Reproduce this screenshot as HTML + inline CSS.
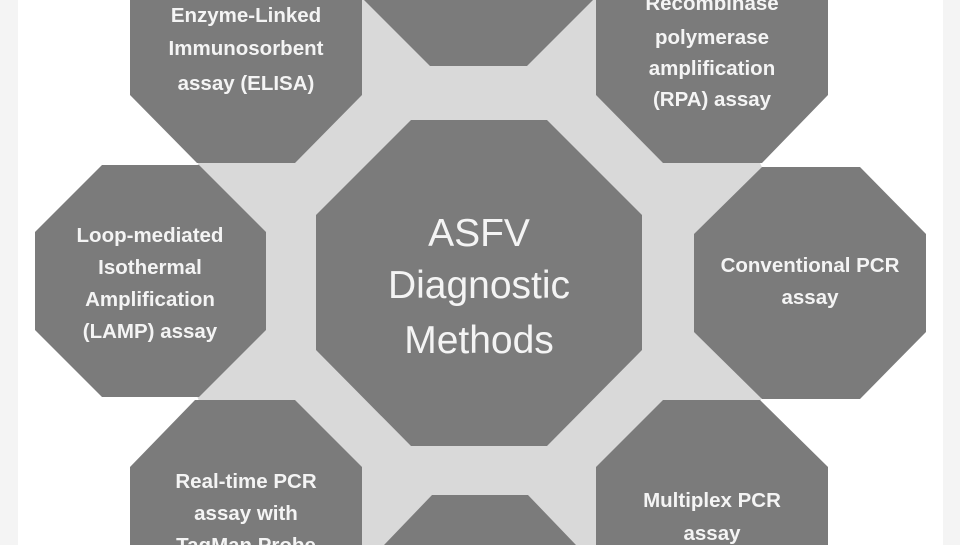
<!DOCTYPE html>
<html><head><meta charset="utf-8"><style>
html,body{margin:0;padding:0;background:#fff;width:960px;height:545px;overflow:hidden;}
svg{display:block;overflow:hidden;}
text{font-family:"Liberation Sans",Arial,sans-serif;fill:#f4f4f4;text-anchor:middle;}
.s{font-size:20.5px;font-weight:bold;}
.c{font-size:39px;}
</style></head><body>
<svg width="960" height="545" viewBox="0 0 960 545" xmlns="http://www.w3.org/2000/svg">
<rect x="0" y="0" width="960" height="545" fill="#fff"/>
<rect x="0" y="0" width="18" height="545" fill="#f4f4f4"/>
<rect x="943" y="0" width="17" height="545" fill="#f4f4f4"/>
<polygon points="479,-50 712,47 810,283 712,516 712,545 246,545 246,516 150,281 246,47" fill="#d9d9d9"/>
<g fill="#7b7b7b">
<polygon points="411,120 547,120 642,215 642,350 547,446 411,446 316,350 316,215"/>
<polygon points="362,0 362,-2 430,66 527,66 595,-2 595,0"/>
<polygon points="130,0 362,0 362,95 295,163 197,163 130,95"/>
<polygon points="596,0 828,0 828,95 762,163 663,163 596,95"/>
<polygon points="102,165 199,165 266,232 266,330 199,397 102,397 35,330 35,232"/>
<polygon points="762,167 860,167 926,234 926,332 860,399 762,399 694,332 694,234"/>
<polygon points="195,400 295,400 362,467 362,545 130,545 130,467"/>
<polygon points="663,400 760,400 828,467 828,545 596,545 596,467"/>
<polygon points="432,495 528,495 576,545 384,545"/>
</g>
<text class="c" x="479" y="246">ASFV</text>
<text class="c" x="479" y="298">Diagnostic</text>
<text class="c" x="479" y="353">Methods</text>

<text class="s" x="246" y="22">Enzyme-Linked</text>
<text class="s" x="246" y="55">Immunosorbent</text>
<text class="s" x="246" y="90">assay (ELISA)</text>

<text class="s" x="712" y="10">Recombinase</text>
<text class="s" x="712" y="44">polymerase</text>
<text class="s" x="712" y="75">amplification</text>
<text class="s" x="712" y="106">(RPA) assay</text>

<text class="s" x="150" y="242">Loop-mediated</text>
<text class="s" x="150" y="274">Isothermal</text>
<text class="s" x="150" y="306">Amplification</text>
<text class="s" x="150" y="338">(LAMP) assay</text>

<text class="s" x="810" y="272">Conventional PCR</text>
<text class="s" x="810" y="304">assay</text>

<text class="s" x="246" y="488">Real-time PCR</text>
<text class="s" x="246" y="520">assay with</text>
<text class="s" x="246" y="552">TaqMan Probe</text>

<text class="s" x="712" y="507">Multiplex PCR</text>
<text class="s" x="712" y="540">assay</text>
</svg>
</body></html>
